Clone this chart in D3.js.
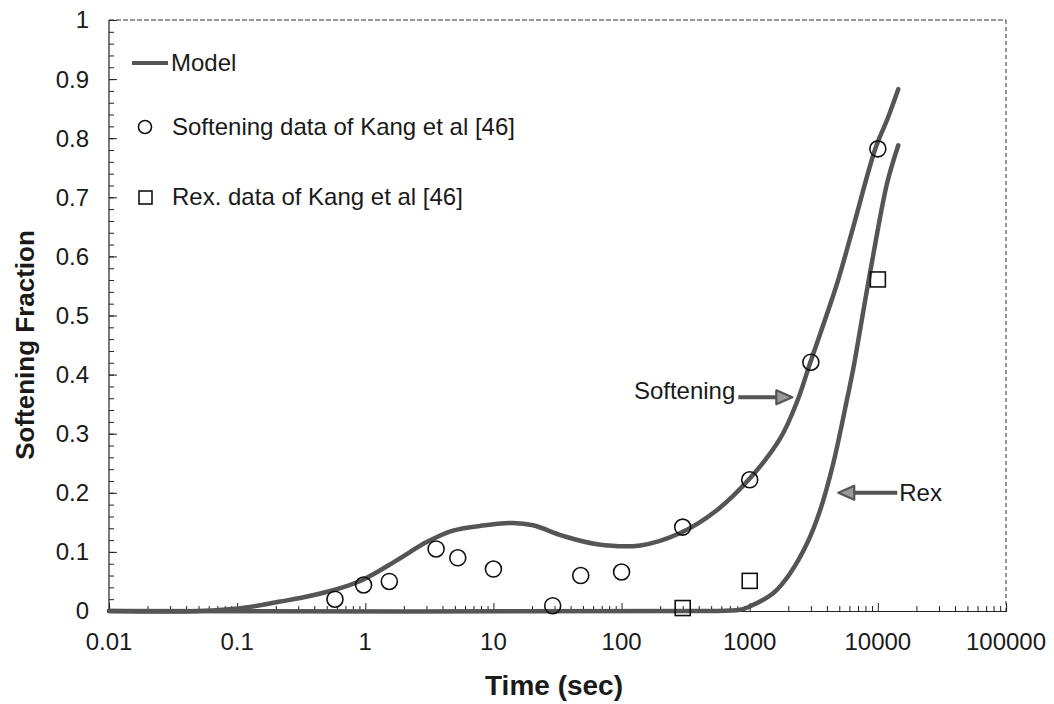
<!DOCTYPE html>
<html lang="en">
<head>
<meta charset="UTF-8">
<title>Softening Fraction</title>
<script src="https://cdn.jsdelivr.net/npm/d3@7/dist/d3.min.js"></script>
<style>
  body { margin: 0; background: #fff; }
  text { font-family: Arial, "Liberation Sans", sans-serif; fill: #1a1a1a; }
</style>
</head>
<body>
<div id="chart"></div>
<script>
// model curves
const softT = [0.01, 0.051, 0.126, 0.216, 0.31, 0.58, 0.96, 1.77, 3.04, 4.84, 7.87, 14.2, 20.4, 35, 64.5, 140, 287, 557, 1008, 1730, 2350, 2965, 4820, 6430, 9550, 11850, 14430];
const softV = [0, 0, 0.007, 0.016, 0.022, 0.036, 0.053, 0.086, 0.117, 0.136, 0.144, 0.149, 0.145, 0.127, 0.113, 0.111, 0.132, 0.171, 0.225, 0.292, 0.355, 0.42, 0.555, 0.65, 0.782, 0.832, 0.883];
const rexT = [0.01, 411, 843, 1008, 1525, 2070, 2810, 3550, 4490, 5770, 6430, 7980, 9890, 11840, 14430];
const rexV = [0, 0, 0.002, 0.008, 0.03, 0.064, 0.115, 0.171, 0.25, 0.36, 0.41, 0.527, 0.64, 0.725, 0.788];

// measured data
const circT = [0.58, 0.97, 1.54, 3.57, 5.27, 10, 29, 48, 100, 300, 1000, 3000, 10000];
const circV = [0.02, 0.044, 0.05, 0.105, 0.09, 0.071, 0.009, 0.06, 0.066, 0.142, 0.222, 0.421, 0.782];
const sqT = [300, 1000, 10000];
const sqV = [0.005, 0.051, 0.561];

const xTicks = [0.01, 0.1, 1, 10, 100, 1000, 10000, 100000];
const xTickLabels = ["0.01", "0.1", "1", "10", "100", "1000", "10000", "100000"];
const yTicks = [0, 0.1, 0.2, 0.3, 0.4, 0.5, 0.6, 0.7, 0.8, 0.9, 1];
const yTickLabels = ["0", "0.1", "0.2", "0.3", "0.4", "0.5", "0.6", "0.7", "0.8", "0.9", "1"];

const legendLabels = ["Model", "Softening data of Kang et al [46]", "Rex. data of Kang et al [46]"];

const W = 1054, H = 704;
const m = {top: 20, right: 48, bottom: 93, left: 109};
const iw = W - m.left - m.right, ih = H - m.top - m.bottom;
const curveColor = "#555";

const svg = d3.select("#chart").append("svg")
  .attr("width", W).attr("height", H);

const g = svg.append("g").attr("transform", `translate(${m.left},${m.top})`);

const x = d3.scaleLog().domain([0.01, 100000]).range([0, iw]);
const y = d3.scaleLinear().domain([0, 1]).range([ih, 0]);

// frame: top and right edges look dotted in the scan
g.append("line").attr("x1", 0).attr("x2", iw).attr("y1", 0).attr("y2", 0)
  .attr("stroke", "#333").attr("stroke-width", 1).attr("stroke-dasharray", "5,2");
g.append("line").attr("x1", iw).attr("x2", iw).attr("y1", 0).attr("y2", ih)
  .attr("stroke", "#333").attr("stroke-width", 1).attr("stroke-dasharray", "4,3");

// x axis, ticks pointing inward
const xMinor = [];
for (let e = -2; e < 5; e++) for (let k = 2; k < 10; k++) xMinor.push(k * Math.pow(10, e));

const xAxis = g.append("g").attr("transform", `translate(0,${ih})`)
  .call(d3.axisTop(x).tickValues(xMinor).tickSize(5).tickFormat(""));
const xMajor = g.append("g").attr("transform", `translate(0,${ih})`)
  .call(d3.axisTop(x).tickValues(xTicks).tickSize(8).tickFormat(""));
[xAxis, xMajor].forEach(a => {
  a.select(".domain").attr("stroke", "#222").attr("stroke-width", 1.2);
  a.selectAll(".tick line").attr("stroke", "#222").attr("stroke-width", 1);
});
xMajor.select(".domain").remove();

g.selectAll(".xlab").data(xTicks).join("text")
  .attr("class", "xlab")
  .attr("x", d => x(d))
  .attr("y", ih + 39)
  .attr("text-anchor", "middle")
  .style("font-size", "24px")
  .text((d, i) => xTickLabels[i]);

// y axis, ticks pointing inward
const yMinor = d3.range(0, 1.001, 0.02);
const yAxis = g.append("g")
  .call(d3.axisRight(y).tickValues(yMinor).tickSize(5).tickFormat(""));
yAxis.select(".domain").attr("stroke", "#222").attr("stroke-width", 1.2)
  .attr("d", `M0,0V${ih}`);
yAxis.selectAll(".tick line").attr("stroke", "#222");
const yMajor = g.append("g")
  .call(d3.axisRight(y).tickValues(yTicks).tickSize(8).tickFormat(""));
yMajor.select(".domain").remove();
yMajor.selectAll(".tick line").attr("stroke", "#222");

g.selectAll(".ylab").data(yTicks).join("text")
  .attr("class", "ylab")
  .attr("x", -20)
  .attr("y", d => y(d))
  .attr("dy", "0.35em")
  .attr("text-anchor", "end")
  .style("font-size", "24px")
  .text((d, i) => yTickLabels[i]);

// axis titles
svg.append("text")
  .attr("x", 554).attr("y", 695)
  .attr("text-anchor", "middle")
  .style("font-size", "28px").style("font-weight", "bold")
  .text("Time (sec)");
svg.append("text")
  .attr("transform", "translate(34,345) rotate(-90)")
  .attr("text-anchor", "middle")
  .style("font-size", "26px").style("font-weight", "bold")
  .text("Softening Fraction");

// model curves
const line = d3.line()
  .x(d => x(d[0]))
  .y(d => y(d[1]))
  .curve(d3.curveCatmullRom.alpha(0.5));

const softData = softT.map((t, i) => [t, softV[i]]);
const rexData = rexT.map((t, i) => [t, rexV[i]]);

[rexData, softData].forEach(data => {
  g.append("path")
    .datum(data)
    .attr("d", line)
    .attr("fill", "none")
    .attr("stroke", curveColor)
    .attr("stroke-width", 4.5)
    .attr("stroke-linecap", "round");
});

// data markers
g.selectAll(".circ").data(circT).join("circle")
  .attr("class", "circ")
  .attr("cx", d => x(d))
  .attr("cy", (d, i) => y(circV[i]))
  .attr("r", 8)
  .attr("fill", "none")
  .attr("stroke", "#111")
  .attr("stroke-width", 1.6);

const sq = 15;
g.selectAll(".sq").data(sqT).join("rect")
  .attr("class", "sq")
  .attr("x", d => x(d) - sq / 2)
  .attr("y", (d, i) => y(sqV[i]) - sq / 2)
  .attr("width", sq).attr("height", sq)
  .attr("fill", "none")
  .attr("stroke", "#111")
  .attr("stroke-width", 1.6);

// arrows with labels
function arrow(tipX, tipY, len, dir) {
  // dir = 1 points right, -1 points left
  const tail = tipX - dir * len;
  const headL = 16, headH = 7;
  g.append("line")
    .attr("x1", tail).attr("x2", tipX - dir * headL + dir * 2)
    .attr("y1", tipY).attr("y2", tipY)
    .attr("stroke", curveColor).attr("stroke-width", 4);
  g.append("path")
    .attr("d", `M${tipX},${tipY}L${tipX - dir * headL},${tipY - headH}L${tipX - dir * headL},${tipY + headH}Z`)
    .attr("fill", "#999")
    .attr("stroke", curveColor)
    .attr("stroke-width", 2.2)
    .attr("stroke-linejoin", "round");
  return tail;
}

const sTail = arrow(x(2150), y(0.3615), 54, 1);
g.append("text")
  .attr("x", sTail - 3).attr("y", y(0.3615) - 7)
  .attr("dy", "0.35em")
  .attr("text-anchor", "end")
  .style("font-size", "24px")
  .text("Softening");

const rTail = arrow(x(4910), y(0.2), 59, -1);
g.append("text")
  .attr("x", rTail + 2).attr("y", y(0.2))
  .attr("dy", "0.35em")
  .style("font-size", "24px")
  .text("Rex");

// legend
const lg = svg.append("g");
lg.append("line")
  .attr("x1", 132).attr("x2", 168).attr("y1", 63).attr("y2", 63)
  .attr("stroke", curveColor).attr("stroke-width", 4);
lg.append("circle")
  .attr("cx", 145).attr("cy", 127).attr("r", 6.5)
  .attr("fill", "none").attr("stroke", "#111").attr("stroke-width", 1.6);
lg.append("rect")
  .attr("x", 139).attr("y", 191).attr("width", 13).attr("height", 13)
  .attr("fill", "none").attr("stroke", "#111").attr("stroke-width", 1.6);
lg.selectAll("text").data(legendLabels).join("text")
  .attr("x", (d, i) => i === 0 ? 171 : 172)
  .attr("y", (d, i) => [63, 127, 197][i])
  .attr("dy", "0.35em")
  .style("font-size", "24px")
  .text(d => d);
</script>
</body>
</html>
